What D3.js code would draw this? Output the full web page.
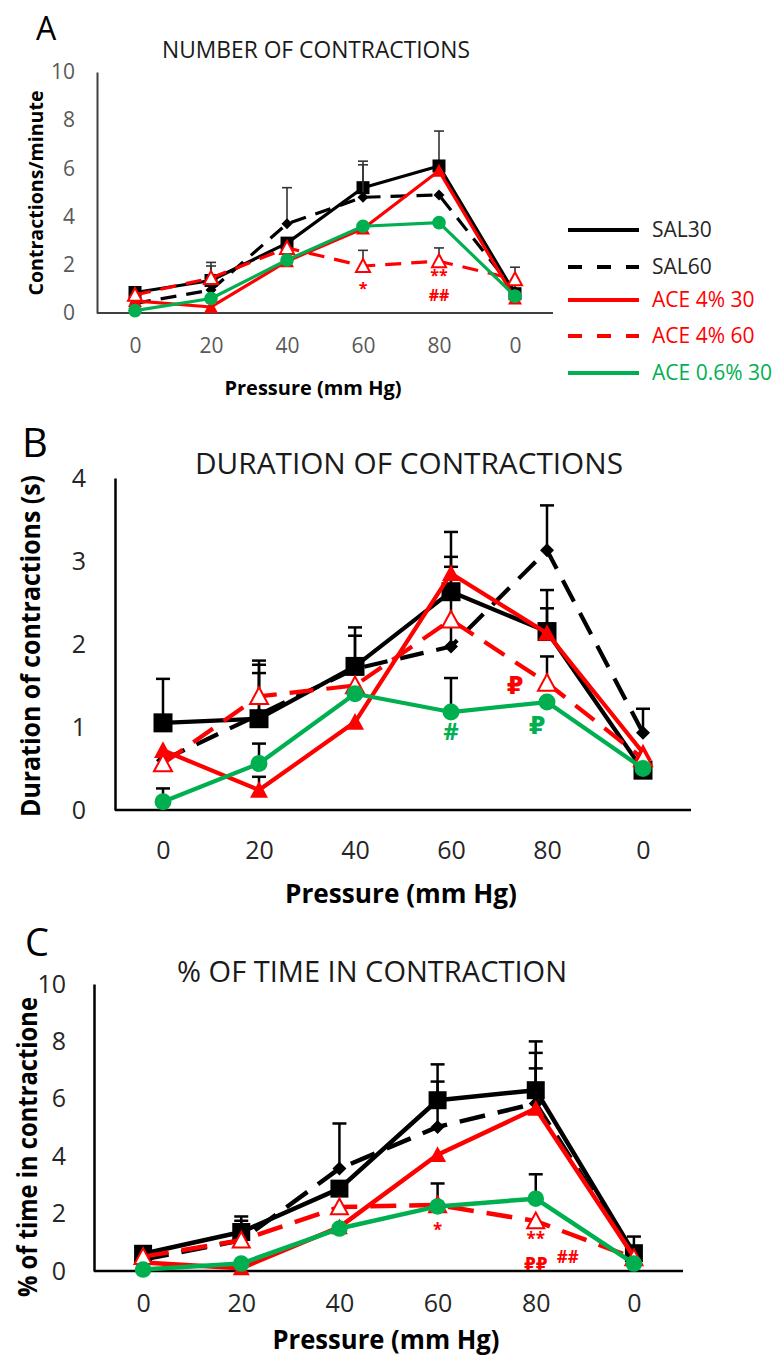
<!DOCTYPE html>
<html><head><meta charset="utf-8">
<script src="https://cdn.jsdelivr.net/npm/d3@7"></script>
<style>body{margin:0;background:#fff} svg{display:block}</style>
</head><body>
<svg id="chart" width="776" height="1358"></svg>
<script>
// ---------- DATA ----------
const pressureLabels = ["0", "20", "40", "60", "80", "0"];
const seriesNames = ["SAL30", "SAL60", "ACE 4% 30", "ACE 4% 60", "ACE 0.6% 30"];

// Panel A: number of contractions (contractions/minute)
const countSAL30   = [0.85, 1.35, 2.9, 5.2, 6.1, 0.8];
const countSAL60   = [0.4, 0.95, 3.7, 4.8, 4.9, 0.9];
const countACE4_30 = [0.5, 0.25, 2.15, 3.5, 5.9, 0.6];
const countACE4_60 = [0.75, 1.45, 2.7, 1.95, 2.15, 1.4];
const countACE06_30 = [0.1, 0.6, 2.2, 3.6, 3.75, 0.7];
const countErrSAL30   = [null, 2.1, null, 6.3, 7.55, null];
const countErrSAL60   = [null, 1.95, 5.2, 6.15, null, null];
const countErrACE4_30 = [null, null, null, null, null, null];
const countErrACE4_60 = [null, null, null, 2.6, 2.7, 1.9];
const countErrACE06_30 = [null, null, null, null, null, null];
const countTicks = [0, 2, 4, 6, 8, 10];
const countNotes = [
  {i: 3, v: 1.04, text: "*", series: 3},
  {i: 4, v: 1.55, text: "**", series: 3},
  {i: 4, v: 0.72, text: "##", series: 3}
];

// Panel B: duration of contractions (s)
const durSAL30   = [1.05, 1.1, 1.73, 2.63, 2.15, 0.48];
const durSAL60   = [0.6, 1.15, 1.7, 1.97, 3.13, 0.93];
const durACE4_30 = [0.72, 0.24, 1.06, 2.85, 2.13, 0.69];
const durACE4_60 = [0.56, 1.37, 1.5, 2.29, 1.53, 0.62];
const durACE06_30 = [0.1, 0.56, 1.4, 1.18, 1.3, 0.5];
const durErrSAL30   = [1.58, 1.8, 2.2, 3.35, 2.65, null];
const durErrSAL60   = [null, 1.75, 2.1, 3.05, 3.67, 1.22];
const durErrACE4_30 = [null, 0.4, null, 2.93, 2.43, null];
const durErrACE4_60 = [null, 1.65, null, null, 1.85, null];
const durErrACE06_30 = [0.26, 0.8, null, 1.59, null, null];
const durTicks = [0, 1, 2, 3, 4];
const durNotes = [
  {i: 4, v: 1.5, text: "₽", series: 3},
  {i: 3, v: 0.94, text: "#", series: 4},
  {i: 4, v: 1.02, text: "₽", series: 4}
];

// Panel C: % of time in contraction
const timeSAL30   = [0.6, 1.36, 2.87, 5.95, 6.3, 0.62];
const timeSAL60   = [0.4, 1.07, 3.57, 5.02, 5.84, 0.5];
const timeACE4_30 = [0.3, 0.1, 1.53, 4.05, 5.66, 0.5];
const timeACE4_60 = [0.5, 1.07, 2.23, 2.3, 1.74, 0.45];
const timeACE06_30 = [0.05, 0.26, 1.48, 2.25, 2.52, 0.26];
const timeErrSAL30   = [null, 1.9, null, 7.2, 8.0, 1.2];
const timeErrSAL60   = [null, 1.75, 5.14, 6.6, 7.6, null];
const timeErrACE4_30 = [null, null, null, null, 7.06, null];
const timeErrACE4_60 = [null, null, null, 3.05, null, null];
const timeErrACE06_30 = [null, null, null, null, 3.37, null];
const timeTicks = [0, 2, 4, 6, 8, 10];
const timeNotes = [
  {i: 3, v: 1.44, text: "*", series: 3},
  {i: 4, v: 1.1, text: "**", series: 3},
  {i: 4, v: 0.25, text: "₽₽", series: 3},
  {i: 4, v: 0.5, text: "##", series: 3}
];

// ---------- STYLE ----------
const FONT = "'Open Sans', 'DejaVu Sans', sans-serif";
const RED = "#ff0000", GREEN = "#00b050", BLACK = "#000000";
const seriesStyle = [
  {color: BLACK, dashed: false, marker: "square"},
  {color: BLACK, dashed: true, marker: "diamond"},
  {color: RED, dashed: false, marker: "triangle"},
  {color: RED, dashed: true, marker: "triangleOpen"},
  {color: GREEN, dashed: false, marker: "circle"}
];
const legendTextColor = ["#262626", "#262626", RED, RED, GREEN];

const svg = d3.select("#chart");

const panels = [
  {
    letter: "A", letterX: 36, letterY: 40, letterSize: 32,
    title: "NUMBER OF CONTRACTIONS", titleX: 316, titleY: 58, titleSize: 23, titleLen: 308,
    left: 97, right: 553, top: 72, bottom: 313, max: 10, ticks: countTicks,
    series: [countSAL30, countSAL60, countACE4_30, countACE4_60, countACE06_30],
    errs: [countErrSAL30, countErrSAL60, countErrACE4_30, countErrACE4_60, countErrACE06_30],
    notes: countNotes, noteSize: 16, noteDx: {},
    tickSize: 21, tickColor: "#595959", xPad: 25, yPad: 22,
    axisW: 2, axisColor: "#404040",
    xTitle: "Pressure (mm Hg)", xTitleX: 313, xTitleY: 395, xTitleSize: 20, xTitleLen: 177,
    yTitle: "Contractions/minute", yTitleX: 43, yTitleY: 193, yTitleSize: 20, yTitleLen: 205,
    lineW: 3.2, dash: "16,10", sq: 13, dia: 11, tri: 14, circ: 6.8, errW: 1.6, errColor: "#333", cap: 10
  },
  {
    letter: "B", letterX: 22, letterY: 457, letterSize: 40,
    title: "DURATION OF CONTRACTIONS", titleX: 409, titleY: 474, titleSize: 30, titleLen: 428,
    left: 115, right: 691, top: 478, bottom: 810, max: 4, ticks: durTicks,
    series: [durSAL30, durSAL60, durACE4_30, durACE4_60, durACE06_30],
    errs: [durErrSAL30, durErrSAL60, durErrACE4_30, durErrACE4_60, durErrACE06_30],
    notes: durNotes, noteSize: 24, noteDx: {"4-0": -32, "4-2": -10},
    tickSize: 25, tickColor: "#262626", xPad: 31, yPad: 29,
    axisW: 2.5, axisColor: "#000",
    xTitle: "Pressure (mm Hg)", xTitleX: 401, xTitleY: 903, xTitleSize: 27, xTitleLen: 232,
    yTitle: "Duration of contractions (s)", yTitleX: 40, yTitleY: 646, yTitleSize: 27, yTitleLen: 342,
    lineW: 4.2, dash: "24,13", sq: 19, dia: 14, tri: 18, circ: 8.5, errW: 2.5, errColor: "#000", cap: 14
  },
  {
    letter: "C", letterX: 25, letterY: 956, letterSize: 38,
    title: "% OF TIME IN CONTRACTION", titleX: 372, titleY: 982, titleSize: 29, titleLen: 390,
    left: 94, right: 683, top: 984, bottom: 1271, max: 10, ticks: timeTicks,
    series: [timeSAL30, timeSAL60, timeACE4_30, timeACE4_60, timeACE06_30],
    errs: [timeErrSAL30, timeErrSAL60, timeErrACE4_30, timeErrACE4_60, timeErrACE06_30],
    notes: timeNotes, noteSize: 17, noteDx: {"4-3": 32},
    tickSize: 25, tickColor: "#262626", xPad: 23, yPad: 28,
    axisW: 2.5, axisColor: "#000",
    xTitle: "Pressure (mm Hg)", xTitleX: 386, xTitleY: 1349, xTitleSize: 26, xTitleLen: 227,
    yTitle: "% of time in contractione", yTitleX: 37, yTitleY: 1147, yTitleSize: 26, yTitleLen: 300,
    lineW: 4.5, dash: "26,13", sq: 18, dia: 14, tri: 17, circ: 8.3, errW: 2.5, errColor: "#000", cap: 14
  }
];

function markerPath(kind, size) {
  const h = size / 2;
  if (kind === "square") return `M${-h},${-h}H${h}V${h}H${-h}Z`;
  if (kind === "diamond") return `M0,${-h}L${h},0L0,${h}L${-h},0Z`;
  if (kind === "triangle" || kind === "triangleOpen")
    return `M0,${-h}L${h},${h * 0.85}L${-h},${h * 0.85}Z`;
  return "";
}

function drawPanel(p) {
  const g = svg.append("g");
  const x = d3.scalePoint().domain(d3.range(pressureLabels.length)).range([p.left, p.right]).padding(0.5);
  const y = d3.scaleLinear().domain([0, p.max]).range([p.bottom, p.top]);

  // panel letter & title
  g.append("text").attr("x", p.letterX).attr("y", p.letterY).attr("font-family", FONT)
    .attr("font-size", p.letterSize).attr("fill", "#000").text(p.letter);
  g.append("text").attr("x", p.titleX).attr("y", p.titleY).attr("text-anchor", "middle")
    .attr("font-family", FONT).attr("font-size", p.titleSize).attr("fill", "#1a1a1a")
    .attr("textLength", p.titleLen).attr("lengthAdjust", "spacingAndGlyphs").text(p.title);

  // axes
  const gx = g.append("g").attr("transform", `translate(0,${p.bottom})`)
    .call(d3.axisBottom(x).tickSize(0).tickSizeOuter(0).tickPadding(p.xPad).tickFormat(i => pressureLabels[i]));
  const gy = g.append("g").attr("transform", `translate(${p.left},0)`)
    .call(d3.axisLeft(y).tickValues(p.ticks).tickFormat(d3.format("d")).tickSize(0).tickSizeOuter(0).tickPadding(p.yPad));
  gx.select(".domain").attr("d", `M${p.left},0H${p.right}`);
  [gx, gy].forEach(a => {
    a.select(".domain").attr("stroke", p.axisColor).attr("stroke-width", p.axisW);
    a.selectAll(".tick text").attr("font-family", FONT).attr("font-size", p.tickSize).attr("fill", p.tickColor);
  });

  // axis titles
  g.append("text").attr("x", p.xTitleX).attr("y", p.xTitleY).attr("text-anchor", "middle")
    .attr("font-family", FONT).attr("font-weight", "bold").attr("font-size", p.xTitleSize)
    .attr("fill", "#000").attr("textLength", p.xTitleLen).attr("lengthAdjust", "spacingAndGlyphs")
    .text(p.xTitle);
  g.append("text").attr("transform", `translate(${p.yTitleX},${p.yTitleY}) rotate(-90)`)
    .attr("text-anchor", "middle").attr("font-family", FONT).attr("font-weight", "bold")
    .attr("font-size", p.yTitleSize).attr("fill", "#000")
    .attr("textLength", p.yTitleLen).attr("lengthAdjust", "spacingAndGlyphs").text(p.yTitle);

  // series
  const line = d3.line().x((d, i) => x(i)).y(d => y(d));
  p.series.forEach((vals, s) => {
    const st = seriesStyle[s];
    const sg = g.append("g");
    // error bars (upper)
    p.errs[s].forEach((e, i) => {
      if (e == null) return;
      sg.append("line").attr("x1", x(i)).attr("x2", x(i)).attr("y1", y(vals[i])).attr("y2", y(e))
        .attr("stroke", p.errColor).attr("stroke-width", p.errW);
      sg.append("line").attr("x1", x(i) - p.cap / 2).attr("x2", x(i) + p.cap / 2).attr("y1", y(e)).attr("y2", y(e))
        .attr("stroke", p.errColor).attr("stroke-width", p.errW);
    });
    sg.append("path").datum(vals).attr("d", line).attr("fill", "none")
      .attr("stroke", st.color).attr("stroke-width", p.lineW)
      .attr("stroke-dasharray", st.dashed ? p.dash : null).attr("stroke-linejoin", "round");
    vals.forEach((v, i) => {
      if (st.marker === "circle") {
        sg.append("circle").attr("cx", x(i)).attr("cy", y(v)).attr("r", p.circ).attr("fill", st.color);
      } else {
        const size = st.marker === "square" ? p.sq : st.marker === "diamond" ? p.dia : p.tri;
        const open = st.marker === "triangleOpen";
        sg.append("path").attr("transform", `translate(${x(i)},${y(v)})`)
          .attr("d", markerPath(st.marker, size))
          .attr("fill", open ? "#fff" : st.color)
          .attr("stroke", st.color).attr("stroke-width", open ? 2 : 0);
      }
    });
  });

  // significance notes
  p.notes.forEach((n, k) => {
    const dx = p.noteDx[`${n.i}-${k}`] || 0;
    g.append("text").attr("x", x(n.i) + dx).attr("y", y(n.v)).attr("dy", "0.35em")
      .attr("text-anchor", "middle").attr("font-family", FONT).attr("font-weight", "bold")
      .attr("font-size", p.noteSize).attr("fill", seriesStyle[n.series].color).text(n.text);
  });
}

panels.forEach(drawPanel);

// legend (panel A)
const legendYs = [230, 267, 300, 336, 373];
const lg = svg.append("g");
seriesNames.forEach((name, s) => {
  const st = seriesStyle[s];
  lg.append("line").attr("x1", 568).attr("x2", 639).attr("y1", legendYs[s]).attr("y2", legendYs[s])
    .attr("stroke", st.color).attr("stroke-width", 4).attr("stroke-dasharray", st.dashed ? "14,15" : null);
  lg.append("text").attr("x", 652).attr("y", legendYs[s]).attr("dy", "0.35em")
    .attr("font-family", FONT).attr("font-size", 21).attr("fill", legendTextColor[s]).text(name);
});
</script>
</body></html>
